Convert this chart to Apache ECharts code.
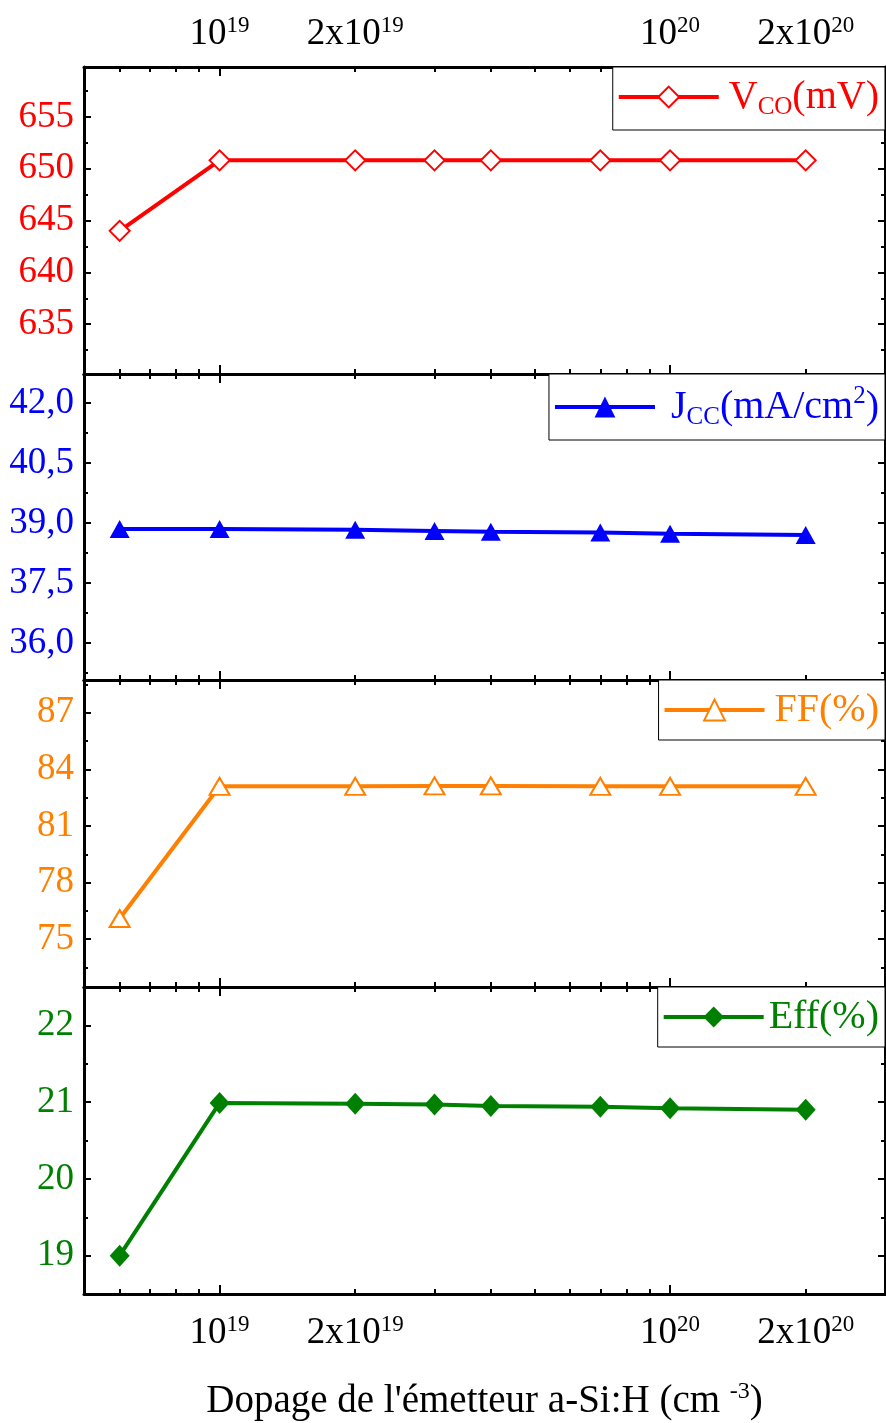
<!DOCTYPE html>
<html>
<head>
<meta charset="utf-8">
<script src="https://cdn.jsdelivr.net/npm/echarts@6/dist/echarts.min.js"></script>
<style>html,body{margin:0;padding:0;background:#fff}#main{width:886px;height:1423px}</style>
</head>
<body>
<div id="main"></div>
<script>
// valeurs
var dopage = [6e18, 1e19, 2e19, 3e19, 4e19, 7e19, 1e20, 2e20];
var vco = [644.0, 650.8, 650.8, 650.8, 650.8, 650.8, 650.8, 650.8];
var jcc = [38.85, 38.85, 38.83, 38.80, 38.78, 38.76, 38.73, 38.70];
var ff = [76.1, 83.1, 83.1, 83.12, 83.12, 83.1, 83.1, 83.1];
var eff = [19.0, 20.99, 20.98, 20.97, 20.95, 20.94, 20.92, 20.90];

// graduations
var xLabelValues = [1e19, 2e19, 1e20, 2e20];
var xLabelTexts = ['{b|10}{p|19}', '{b|2x10}{p|19}', '{b|10}{p|20}', '{b|2x10}{p|20}'];
var xMajorTicks = [1e19, 1e20];
var xMinorTicks = [6e18, 7e18, 8e18, 9e18, 2e19, 3e19, 4e19, 5e19, 6e19, 7e19, 8e19, 9e19, 2e20];
var vcoTicks = [635, 640, 645, 650, 655];
var vcoMinor = [632.5, 637.5, 642.5, 647.5, 652.5, 657.5];
var jccTicks = [36.0, 37.5, 39.0, 40.5, 42.0];
var jccMinor = [35.25, 36.75, 38.25, 39.75, 41.25];
var ffTicks = [75, 78, 81, 84, 87];
var ffMinor = [73.5, 76.5, 79.5, 82.5, 85.5, 88.5];
var effTicks = [19, 20, 21, 22];
var effMinor = [19.5, 20.5, 21.5];

var font = 'Liberation Serif';
var tops = [67, 374, 680, 987];
var heights = [307, 306, 307, 307];

function lg(v) { return Math.log10(v); }

var panels = [
	{ name: 'Vco', data: vco, color: '#ff0000', symbol: 'emptyDiamond', size: [20, 20],
	  min: 630.2, max: 659.8, ticks: vcoTicks, minor: vcoMinor, dec: 0, gap: 5,
	  legend: '{f|V}{s|CO}{n|(mV)}' },
	{ name: 'Jcc', data: jcc, color: '#0000ff', symbol: 'triangle', size: [20, 18],
	  min: 35.08, max: 42.72, ticks: jccTicks, minor: jccMinor, dec: 1, gap: 11,
	  legend: '{f|J}{s|CC}{n|(mA/cm}{u|2}{n|)}' },
	{ name: 'FF', data: ff, color: '#ff8000', symbol: 'emptyTriangle', size: [20, 17],
	  min: 72.47, max: 88.73, ticks: ffTicks, minor: ffMinor, dec: 0, gap: 5,
	  legend: '{f|FF(%)}' },
	{ name: 'Eff', data: eff, color: '#008000', symbol: 'diamond', size: [20, 22],
	  min: 18.5, max: 22.5, ticks: effTicks, minor: effMinor, dec: 0, gap: 0,
	  legend: '{f|Eff(%)}' }
];

function xAxisDef(gi, pos, ticks, len, labels, line) {
	var ax = {
		type: 'value', gridIndex: gi, position: pos,
		min: lg(5e18), max: lg(3e20),
		axisLine: { show: line, onZero: false, lineStyle: { color: '#000', width: 3 } },
		axisTick: { show: true, inside: true, length: len, customValues: ticks.map(lg),
			lineStyle: { color: '#000', width: 2 } },
		axisLabel: { show: labels, customValues: xLabelValues.map(lg), margin: pos == 'top' ? 13 : 19,
			formatter: function (v) {
				for (var k = 0; k < xLabelValues.length; k++) {
					if (Math.abs(lg(xLabelValues[k]) - v) < 1e-6) return xLabelTexts[k];
				}
				return '';
			},
			rich: {
				b: { fontFamily: font, fontSize: 37, color: '#000', lineHeight: 40 },
				p: { fontFamily: font, fontSize: 23, color: '#000', verticalAlign: 'top' }
			}
		},
		splitLine: { show: false }
	};
	if (gi == 3 && pos == 'bottom' && labels) {
		ax.name = '{t|Dopage de l\'émetteur a-Si:H (cm }{u|-3}{t|)}';
		ax.nameLocation = 'middle';
		ax.nameGap = 86;
		ax.nameTextStyle = {
			rich: {
				t: { fontFamily: font, fontSize: 39, color: '#000', lineHeight: 44 },
				u: { fontFamily: font, fontSize: 24, color: '#000', verticalAlign: 'top' }
			}
		};
	}
	return ax;
}

function yAxisDef(gi, p, pos, ticks, len, labels, line) {
	return {
		type: 'value', gridIndex: gi, position: pos, min: p.min, max: p.max,
		axisLine: { show: line, lineStyle: { color: '#000', width: 3 } },
		axisTick: { show: true, inside: true, length: len, customValues: ticks,
			lineStyle: { color: '#000', width: 2 } },
		axisLabel: { show: labels, customValues: p.ticks, margin: 10,
			color: p.color, fontFamily: font, fontSize: 37,
			formatter: function (v) { return v.toFixed(p.dec).replace('.', ','); } },
		splitLine: { show: false }
	};
}

var grids = [], xAxes = [], yAxes = [], series = [], legends = [];

panels.forEach(function (p, i) {
	grids.push({ left: 84, right: 1, top: tops[i], height: heights[i] });
	var xi = xAxes.length;
	xAxes.push(xAxisDef(i, 'bottom', xMajorTicks, 9, i == 3, true));
	xAxes.push(xAxisDef(i, 'bottom', xMinorTicks, 5, false, false));
	xAxes.push(xAxisDef(i, 'top', xMajorTicks, 9, i == 0, true));
	xAxes.push(xAxisDef(i, 'top', xMinorTicks, 5, false, false));
	var yi = yAxes.length;
	yAxes.push(yAxisDef(i, p, 'left', p.ticks, 7, true, true));
	yAxes.push(yAxisDef(i, p, 'left', p.minor, 4, false, false));
	yAxes.push(yAxisDef(i, p, 'right', p.ticks, 7, false, true));
	yAxes.push(yAxisDef(i, p, 'right', p.minor, 4, false, false));

	var pts = [];
	for (var k = 0; k < dopage.length; k++) pts.push([lg(dopage[k]), p.data[k]]);
	series.push({
		name: p.name, type: 'line', xAxisIndex: xi, yAxisIndex: yi,
		data: pts, symbol: p.symbol, symbolSize: p.size,
		lineStyle: { color: p.color, width: 4 },
		itemStyle: { color: p.color, borderWidth: 1.5 },
		animation: false
	});

	legends.push({
		data: [p.name], right: 1, top: tops[i],
		itemWidth: 100, itemHeight: 26, itemGap: 0,
		padding: [10, 6, 10, 4],
		borderColor: '#000', borderWidth: 1, borderRadius: 0,
		backgroundColor: '#fff', selectedMode: false,
		lineStyle: { width: 4 },
		formatter: function () { return p.legend; },
		textStyle: {
			color: p.color, fontFamily: font, fontSize: 40,
			rich: {
				f: { fontFamily: font, fontSize: 40, color: p.color, lineHeight: 46, padding: [0, 0, 0, p.gap] },
				n: { fontFamily: font, fontSize: 40, color: p.color, lineHeight: 46 },
				s: { fontFamily: font, fontSize: 25, color: p.color, verticalAlign: 'bottom' },
				u: { fontFamily: font, fontSize: 25, color: p.color, verticalAlign: 'top' }
			}
		}
	});
});

var myChart = echarts.init(document.getElementById('main'));
myChart.setOption({
	backgroundColor: '#fff',
	animation: false,
	grid: grids,
	xAxis: xAxes,
	yAxis: yAxes,
	legend: legends,
	series: series
});
</script>
</body>
</html>
